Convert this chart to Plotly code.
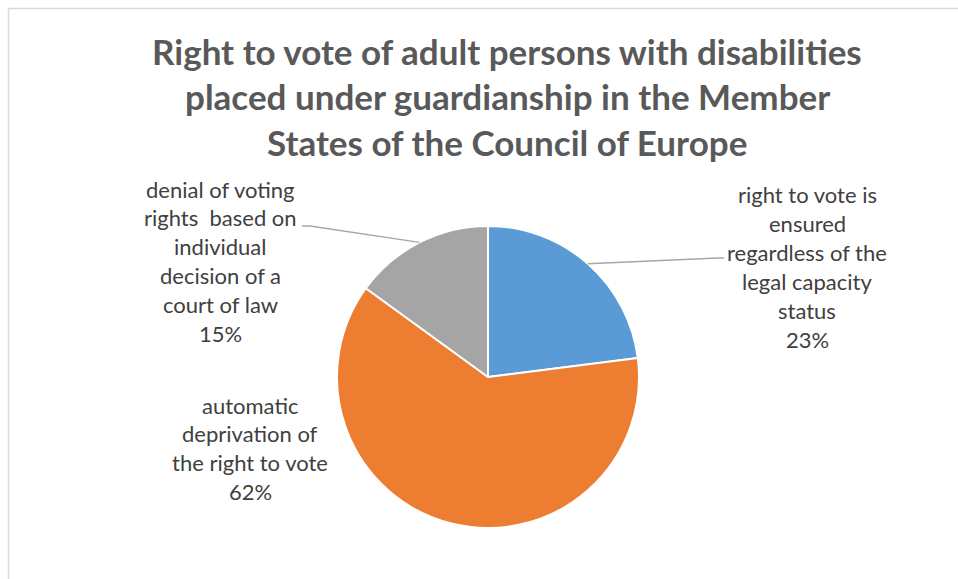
import math
import plotly.graph_objects as go

# ---- data ----
categories = [
    "right to vote is ensured regardless of the legal capacity status",
    "automatic deprivation of the right to vote",
    "denial of voting rights  based on individual decision of a court of law",
]
shares = [23, 62, 15]
colors = ["#5B9BD5", "#ED7D31", "#A5A5A5"]
label_lines = [
    ["right to vote is", "ensured", "regardless of the", "legal capacity", "status"],
    ["automatic", "deprivation of", "the right to vote"],
    ["denial of voting", "rights  based on", "individual", "decision of a", "court of law"],
]
title_lines = [
    "Right to vote of adult persons with disabilities",
    "placed under guardianship in the Member",
    "States of the Council of Europe",
]

# ---- layout constants (pixels) ----
W, H = 958, 579
CX, CY, R = 488, 377, 151
FONT = "Lato"

def px(x):
    return x / W

def py(y):
    return 1 - y / H

fig = go.Figure(go.Pie(
    labels=categories,
    values=shares,
    sort=False,
    direction="clockwise",
    rotation=0,
    marker=dict(colors=colors, line=dict(color="white", width=2)),
    textinfo="none",
    hoverinfo="label+percent",
    showlegend=False,
    domain=dict(x=[px(CX - R), px(CX + R)], y=[py(CY + R), py(CY - R)]),
))

annotations = []

def add_block(lines, cx, y0, spacing, size, color, bold=False):
    for i, t in enumerate(lines):
        txt = f"<b>{t}</b>" if bold else t
        annotations.append(dict(
            text=txt, x=px(cx), y=py(y0 + i * spacing), xref="paper", yref="paper",
            xanchor="center", yanchor="middle", showarrow=False,
            font=dict(family=FONT, size=size, color=color),
        ))

add_block(title_lines, 507, 51, 45.5, 35, "#595959", bold=True)

total = sum(shares)
pct = [f"{round(v / total * 100)}%" for v in shares]
# label blocks: (center x, first line y)
label_pos = [(807, 195), (250, 405), (220, 189)]
spacing = 28.8
for i, lines in enumerate(label_lines):
    cx, y0 = label_pos[i]
    add_block(lines + [pct[i]], cx, y0, spacing, 22, "#404040")

# leader lines computed from slice mid-angles
shapes = []
cum = 0
leader_ends = {0: [(718, 258), (724, 258)], 2: [(310, 226), (302, 226)]}
for i, v in enumerate(shares):
    mid = (cum + v / 2) / total * 2 * math.pi
    cum += v
    if i not in leader_ends:
        continue
    sx = CX + R * math.sin(mid)
    sy = CY - R * math.cos(mid)
    pts = [(sx, sy)] + leader_ends[i]
    path = "M " + " L ".join(f"{px(x)},{py(y)}" for x, y in pts)
    shapes.append(dict(type="path", path=path, xref="paper", yref="paper",
                       line=dict(color="#A6A6A6", width=1.3)))

# chart frame
shapes.append(dict(type="rect", xref="paper", yref="paper",
                   x0=px(8.5), x1=px(W + 20), y0=py(H + 20), y1=py(8.5),
                   line=dict(color="#D9D9D9", width=1.5), fillcolor="rgba(0,0,0,0)", layer="below"))

fig.update_layout(
    width=W, height=H,
    margin=dict(l=0, r=0, t=0, b=0),
    paper_bgcolor="white", plot_bgcolor="white",
    annotations=annotations, shapes=shapes,
)

fig.write_html("out.html")
